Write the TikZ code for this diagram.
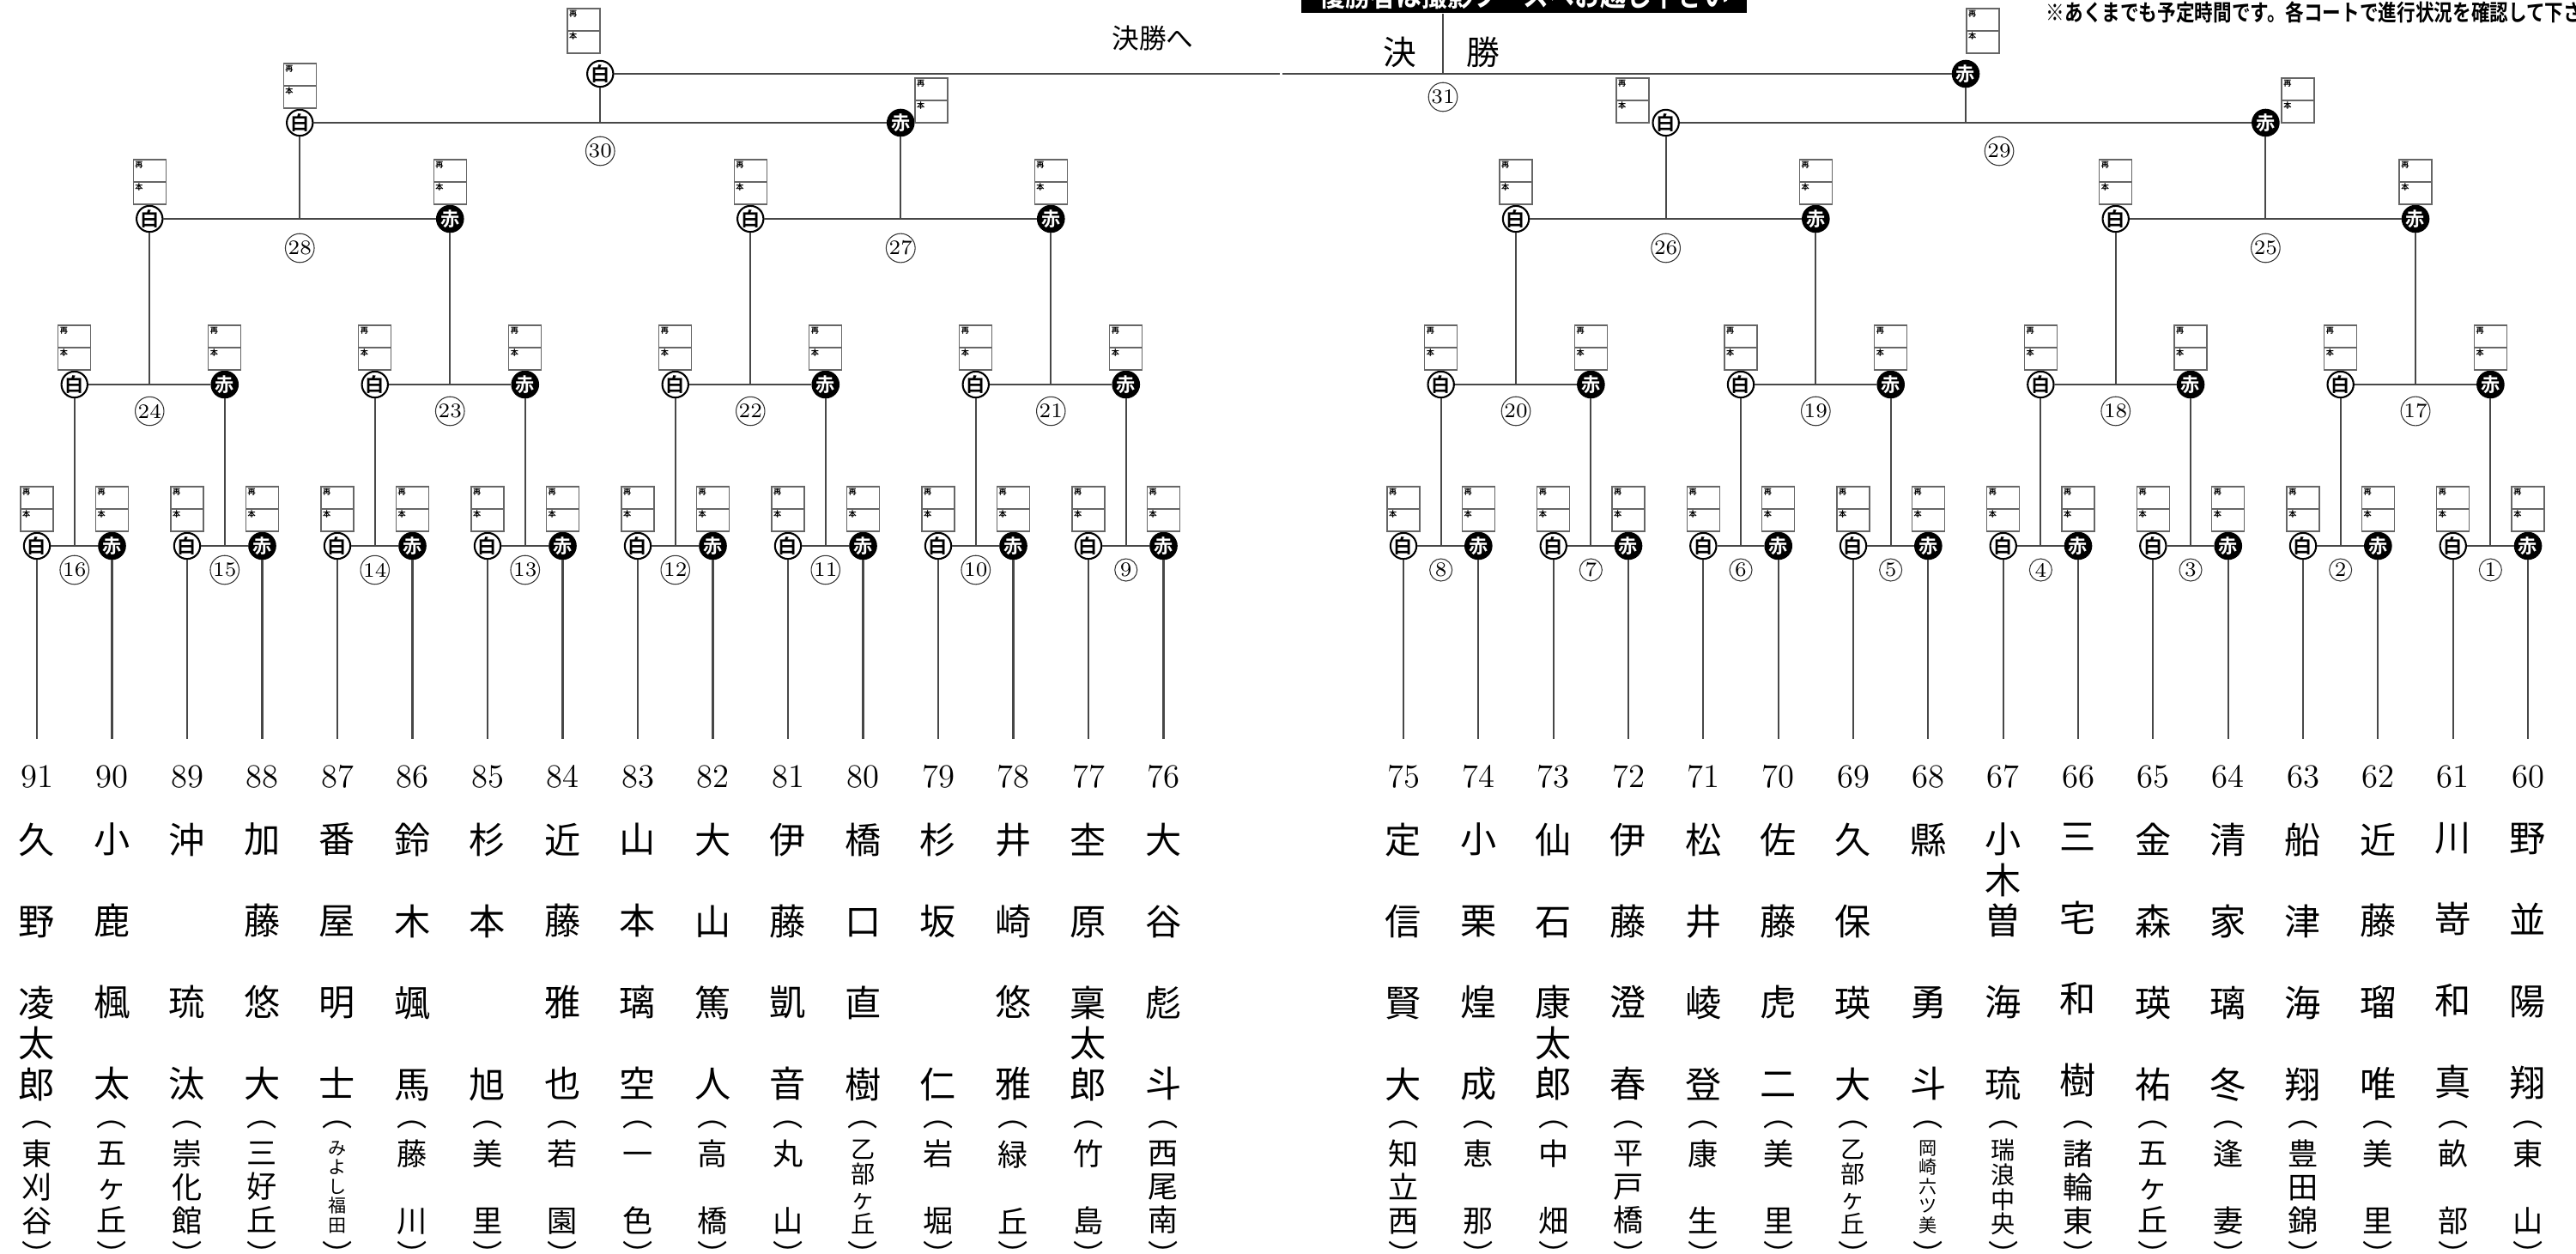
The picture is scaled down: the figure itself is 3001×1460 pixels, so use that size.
\documentclass[tikz,border=0pt]{standalone}
\usepackage{fontspec}
\usepackage{graphicx}
\newfontfamily\jp{Noto Sans CJK JP}[BoldFont=* Bold]

\tikzset{
  wire/.style={draw=black!72,line width=0.6pt},
  boxline/.style={draw=black!60,line width=0.4pt},
  tag/.style={anchor=north west,inner sep=0pt,font=\jp\bfseries\fontsize{2.6}{2.6}\selectfont},
  scorebox/.pic={
    \draw[boxline] (0,0) rectangle (38,52);
    \draw[boxline] (0,26) -- (38,26);
    \node[tag] at (1.5,1.5) {再};
    \node[tag] at (1.5,27.5) {本};
  },
  shiro/.style={circle,draw=black,line width=0.6pt,fill=white,minimum size=0.28cm,inner sep=0pt,font=\jp\bfseries\fontsize{6.3}{6.3}\selectfont},
  aka/.style={shiro,fill=black,text=white},
  mno/.style={circle,draw=black!80,line width=0.3pt,inner sep=0.2pt,minimum size=0.26cm,font=\fontsize{6.8}{6.8}\selectfont},
  seq/.style={inner sep=0pt,font=\fontsize{11}{11}\selectfont},
  who/.style={anchor=north,align=center,inner sep=0pt,font=\jp\fontsize{12}{27}\selectfont},
  school/.style={align=center,inner sep=0pt,font=\jp\fontsize{10}{11.1}\selectfont},
  school4/.style={school,font=\jp\fontsize{8}{8.2}\selectfont},
  school5/.style={school,font=\jp\fontsize{6}{6.4}\selectfont},
  paren/.style={inner sep=0pt,font=\jp\fontsize{10}{10}\selectfont},
  final/.style={inner sep=0pt,font=\jp\fontsize{11}{11}\selectfont},
  banner/.style={anchor=south,fill=black,text=white,minimum width=5.19cm,inner ysep=0.04cm,font=\jp\bfseries\fontsize{10}{10}\selectfont},
  note/.style={anchor=west,inner sep=0pt,font=\jp\bfseries\fontsize{7.5}{7.5}\selectfont}
}

\begin{document}
\begin{tikzpicture}[x=0.01cm,y=-0.01cm]
\useasboundingbox (0,0) rectangle (3001,1460);

\node[banner] (banner) at (1775.5,16) {\scalebox{0.85}[1]{優勝者は撮影ブースへお越し下さい}};
\node[note] (note) at (2383,14) {\scalebox{0.82}[1]{※あくまでも予定時間です。各コートで進行状況を確認して下さい}};
\node[final,font=\jp\fontsize{9}{9}\selectfont] (tofinal) at (1343,44) {決勝へ};
\node[final] (k1) at (1631,61) {決};
\node[final] (k2) at (1728,61) {勝};

% round 1, left
\node[shiro] (w16) at (43,636) {白};
\node[aka] (r16) at (130.5,636) {赤};
\node[shiro] (w15) at (218,636) {白};
\node[aka] (r15) at (305.5,636) {赤};
\node[shiro] (w14) at (393,636) {白};
\node[aka] (r14) at (480.5,636) {赤};
\node[shiro] (w13) at (568,636) {白};
\node[aka] (r13) at (655.5,636) {赤};
\node[shiro] (w12) at (743,636) {白};
\node[aka] (r12) at (830.5,636) {赤};
\node[shiro] (w11) at (918,636) {白};
\node[aka] (r11) at (1005.5,636) {赤};
\node[shiro] (w10) at (1093,636) {白};
\node[aka] (r10) at (1180.5,636) {赤};
\node[shiro] (w9) at (1268,636) {白};
\node[aka] (r9) at (1355.5,636) {赤};
% round 1, right
\node[shiro] (w8) at (1635,636) {白};
\node[aka] (r8) at (1722.3,636) {赤};
\node[shiro] (w7) at (1809.7,636) {白};
\node[aka] (r7) at (1897,636) {赤};
\node[shiro] (w6) at (1984.3,636) {白};
\node[aka] (r6) at (2071.7,636) {赤};
\node[shiro] (w5) at (2159,636) {白};
\node[aka] (r5) at (2246.3,636) {赤};
\node[shiro] (w4) at (2333.7,636) {白};
\node[aka] (r4) at (2421,636) {赤};
\node[shiro] (w3) at (2508.3,636) {白};
\node[aka] (r3) at (2595.7,636) {赤};
\node[shiro] (w2) at (2683,636) {白};
\node[aka] (r2) at (2770.3,636) {赤};
\node[shiro] (w1) at (2857.7,636) {白};
\node[aka] (r1) at (2945,636) {赤};
% round 2
\node[shiro] (w24) at (86.75,448) {白};
\node[aka] (r24) at (261.75,448) {赤};
\node[shiro] (w23) at (436.75,448) {白};
\node[aka] (r23) at (611.75,448) {赤};
\node[shiro] (w22) at (786.75,448) {白};
\node[aka] (r22) at (961.75,448) {赤};
\node[shiro] (w21) at (1136.75,448) {白};
\node[aka] (r21) at (1311.75,448) {赤};
\node[shiro] (w20) at (1678.65,448) {白};
\node[aka] (r20) at (1853.35,448) {赤};
\node[shiro] (w19) at (2028,448) {白};
\node[aka] (r19) at (2202.65,448) {赤};
\node[shiro] (w18) at (2377.35,448) {白};
\node[aka] (r18) at (2552,448) {赤};
\node[shiro] (w17) at (2726.65,448) {白};
\node[aka] (r17) at (2901.35,448) {赤};
% round 3
\node[shiro] (w28) at (174.25,255) {白};
\node[aka] (r28) at (524.25,255) {赤};
\node[shiro] (w27) at (874.25,255) {白};
\node[aka] (r27) at (1224.25,255) {赤};
\node[shiro] (w26) at (1766,255) {白};
\node[aka] (r26) at (2115.3,255) {赤};
\node[shiro] (w25) at (2464.7,255) {白};
\node[aka] (r25) at (2814,255) {赤};
% round 4 and semifinal
\node[shiro] (w30) at (349.25,143) {白};
\node[aka] (r30) at (1049.25,143) {赤};
\node[shiro] (w29) at (1940.65,143) {白};
\node[aka] (r29) at (2639.35,143) {赤};
\node[shiro] (w31) at (699.25,86) {白};
\node[aka] (r31) at (2290,86) {赤};

% score boxes
\pic at (24,567) {scorebox};
\pic at (111.5,567) {scorebox};
\pic at (199,567) {scorebox};
\pic at (286.5,567) {scorebox};
\pic at (374,567) {scorebox};
\pic at (461.5,567) {scorebox};
\pic at (549,567) {scorebox};
\pic at (636.5,567) {scorebox};
\pic at (724,567) {scorebox};
\pic at (811.5,567) {scorebox};
\pic at (899,567) {scorebox};
\pic at (986.5,567) {scorebox};
\pic at (1074,567) {scorebox};
\pic at (1161.5,567) {scorebox};
\pic at (1249,567) {scorebox};
\pic at (1336.5,567) {scorebox};
\pic at (1616,567) {scorebox};
\pic at (1703.3,567) {scorebox};
\pic at (1790.7,567) {scorebox};
\pic at (1878,567) {scorebox};
\pic at (1965.3,567) {scorebox};
\pic at (2052.7,567) {scorebox};
\pic at (2140,567) {scorebox};
\pic at (2227.3,567) {scorebox};
\pic at (2314.7,567) {scorebox};
\pic at (2402,567) {scorebox};
\pic at (2489.3,567) {scorebox};
\pic at (2576.7,567) {scorebox};
\pic at (2664,567) {scorebox};
\pic at (2751.3,567) {scorebox};
\pic at (2838.7,567) {scorebox};
\pic at (2926,567) {scorebox};
\pic at (67.75,379) {scorebox};
\pic at (242.75,379) {scorebox};
\pic at (417.75,379) {scorebox};
\pic at (592.75,379) {scorebox};
\pic at (767.75,379) {scorebox};
\pic at (942.75,379) {scorebox};
\pic at (1117.75,379) {scorebox};
\pic at (1292.75,379) {scorebox};
\pic at (1659.65,379) {scorebox};
\pic at (1834.35,379) {scorebox};
\pic at (2009,379) {scorebox};
\pic at (2183.65,379) {scorebox};
\pic at (2358.35,379) {scorebox};
\pic at (2533,379) {scorebox};
\pic at (2707.65,379) {scorebox};
\pic at (2882.35,379) {scorebox};
\pic at (155.25,186) {scorebox};
\pic at (505.25,186) {scorebox};
\pic at (855.25,186) {scorebox};
\pic at (1205.25,186) {scorebox};
\pic at (1747,186) {scorebox};
\pic at (2096.3,186) {scorebox};
\pic at (2445.7,186) {scorebox};
\pic at (2795,186) {scorebox};
\pic at (330.25,74) {scorebox};
\pic at (1066,91) {scorebox};
\pic at (1883,91) {scorebox};
\pic at (2658,91) {scorebox};
\pic at (661,10) {scorebox};
\pic at (2291,10) {scorebox};

% junctions
\coordinate (j16) at (86.75,636);
\coordinate (j15) at (261.75,636);
\coordinate (j14) at (436.75,636);
\coordinate (j13) at (611.75,636);
\coordinate (j12) at (786.75,636);
\coordinate (j11) at (961.75,636);
\coordinate (j10) at (1136.75,636);
\coordinate (j9) at (1311.75,636);
\coordinate (j8) at (1678.65,636);
\coordinate (j7) at (1853.35,636);
\coordinate (j6) at (2028,636);
\coordinate (j5) at (2202.65,636);
\coordinate (j4) at (2377.35,636);
\coordinate (j3) at (2552,636);
\coordinate (j2) at (2726.65,636);
\coordinate (j1) at (2901.35,636);
\coordinate (j24) at (174.25,448);
\coordinate (j23) at (524.25,448);
\coordinate (j22) at (874.25,448);
\coordinate (j21) at (1224.25,448);
\coordinate (j20) at (1766,448);
\coordinate (j19) at (2115.3,448);
\coordinate (j18) at (2464.7,448);
\coordinate (j17) at (2814,448);
\coordinate (j28) at (349.25,255);
\coordinate (j27) at (1049.25,255);
\coordinate (j26) at (1940.65,255);
\coordinate (j25) at (2639.35,255);
\coordinate (j30) at (699.25,143);
\coordinate (j29) at (2290,143);
\coordinate (j31) at (1681,86);
\coordinate (g1) at (1491,86);
\coordinate (g2) at (1494,86);

\draw[wire] (w16) -- (r16);
\draw[wire] (w15) -- (r15);
\draw[wire] (w14) -- (r14);
\draw[wire] (w13) -- (r13);
\draw[wire] (w12) -- (r12);
\draw[wire] (w11) -- (r11);
\draw[wire] (w10) -- (r10);
\draw[wire] (w9) -- (r9);
\draw[wire] (w8) -- (r8);
\draw[wire] (w7) -- (r7);
\draw[wire] (w6) -- (r6);
\draw[wire] (w5) -- (r5);
\draw[wire] (w4) -- (r4);
\draw[wire] (w3) -- (r3);
\draw[wire] (w2) -- (r2);
\draw[wire] (w1) -- (r1);
\draw[wire] (w24) -- (r24);
\draw[wire] (w23) -- (r23);
\draw[wire] (w22) -- (r22);
\draw[wire] (w21) -- (r21);
\draw[wire] (w20) -- (r20);
\draw[wire] (w19) -- (r19);
\draw[wire] (w18) -- (r18);
\draw[wire] (w17) -- (r17);
\draw[wire] (w28) -- (r28);
\draw[wire] (w27) -- (r27);
\draw[wire] (w26) -- (r26);
\draw[wire] (w25) -- (r25);
\draw[wire] (w30) -- (r30);
\draw[wire] (w29) -- (r29);
\draw[wire] (w31) -- (g1);
\draw[wire] (g2) -- (r31);

\draw[wire] (j16) -- (w24);
\draw[wire] (j15) -- (r24);
\draw[wire] (j14) -- (w23);
\draw[wire] (j13) -- (r23);
\draw[wire] (j12) -- (w22);
\draw[wire] (j11) -- (r22);
\draw[wire] (j10) -- (w21);
\draw[wire] (j9) -- (r21);
\draw[wire] (j8) -- (w20);
\draw[wire] (j7) -- (r20);
\draw[wire] (j6) -- (w19);
\draw[wire] (j5) -- (r19);
\draw[wire] (j4) -- (w18);
\draw[wire] (j3) -- (r18);
\draw[wire] (j2) -- (w17);
\draw[wire] (j1) -- (r17);
\draw[wire] (j24) -- (w28);
\draw[wire] (j23) -- (r28);
\draw[wire] (j22) -- (w27);
\draw[wire] (j21) -- (r27);
\draw[wire] (j20) -- (w26);
\draw[wire] (j19) -- (r26);
\draw[wire] (j18) -- (w25);
\draw[wire] (j17) -- (r25);
\draw[wire] (j28) -- (w30);
\draw[wire] (j27) -- (r30);
\draw[wire] (j26) -- (w29);
\draw[wire] (j25) -- (r29);
\draw[wire] (j30) -- (w31);
\draw[wire] (j29) -- (r31);
\draw[wire] (j31) -- (j31 |- banner.south);

% match numbers
\node[mno] (l16) at (86.75,664) {16};
\node[mno] (l15) at (261.75,664) {15};
\node[mno] (l14) at (436.75,664) {14};
\node[mno] (l13) at (611.75,664) {13};
\node[mno] (l12) at (786.75,664) {12};
\node[mno] (l11) at (961.75,664) {11};
\node[mno] (l10) at (1136.75,664) {10};
\node[mno] (l9) at (1311.75,664) {9};
\node[mno] (l8) at (1678.65,664) {8};
\node[mno] (l7) at (1853.35,664) {7};
\node[mno] (l6) at (2028,664) {6};
\node[mno] (l5) at (2202.65,664) {5};
\node[mno] (l4) at (2377.35,664) {4};
\node[mno] (l3) at (2552,664) {3};
\node[mno] (l2) at (2726.65,664) {2};
\node[mno] (l1) at (2901.35,664) {1};
\node[mno] (l24) at (174.25,479) {24};
\node[mno] (l23) at (524.25,479) {23};
\node[mno] (l22) at (874.25,479) {22};
\node[mno] (l21) at (1224.25,479) {21};
\node[mno] (l20) at (1766,479) {20};
\node[mno] (l19) at (2115.3,479) {19};
\node[mno] (l18) at (2464.7,479) {18};
\node[mno] (l17) at (2814,479) {17};
\node[mno] (l28) at (349.25,289) {28};
\node[mno] (l27) at (1049.25,289) {27};
\node[mno] (l26) at (1940.65,289) {26};
\node[mno] (l25) at (2639.35,289) {25};
\node[mno] (l30) at (699.25,176) {30};
\node[mno] (l29) at (2329,176) {29};
\node[mno] (l31) at (1681,113) {31};

% entrants, left
\coordinate (e91) at (43,861);
\coordinate (e90) at (130.5,861);
\coordinate (e89) at (218,861);
\coordinate (e88) at (305.5,861);
\coordinate (e87) at (393,861);
\coordinate (e86) at (480.5,861);
\coordinate (e85) at (568,861);
\coordinate (e84) at (655.5,861);
\coordinate (e83) at (743,861);
\coordinate (e82) at (830.5,861);
\coordinate (e81) at (918,861);
\coordinate (e80) at (1005.5,861);
\coordinate (e79) at (1093,861);
\coordinate (e78) at (1180.5,861);
\coordinate (e77) at (1268,861);
\coordinate (e76) at (1355.5,861);
\draw[wire] (w16) -- (e91);
\draw[wire] (r16) -- (e90);
\draw[wire] (w15) -- (e89);
\draw[wire] (r15) -- (e88);
\draw[wire] (w14) -- (e87);
\draw[wire] (r14) -- (e86);
\draw[wire] (w13) -- (e85);
\draw[wire] (r13) -- (e84);
\draw[wire] (w12) -- (e83);
\draw[wire] (r12) -- (e82);
\draw[wire] (w11) -- (e81);
\draw[wire] (r11) -- (e80);
\draw[wire] (w10) -- (e79);
\draw[wire] (r10) -- (e78);
\draw[wire] (w9) -- (e77);
\draw[wire] (r9) -- (e76);
% entrants, right
\coordinate (e75) at (1635,861);
\coordinate (e74) at (1722.3,861);
\coordinate (e73) at (1809.7,861);
\coordinate (e72) at (1897,861);
\coordinate (e71) at (1984.3,861);
\coordinate (e70) at (2071.7,861);
\coordinate (e69) at (2159,861);
\coordinate (e68) at (2246.3,861);
\coordinate (e67) at (2333.7,861);
\coordinate (e66) at (2421,861);
\coordinate (e65) at (2508.3,861);
\coordinate (e64) at (2595.7,861);
\coordinate (e63) at (2683,861);
\coordinate (e62) at (2770.3,861);
\coordinate (e61) at (2857.7,861);
\coordinate (e60) at (2945,861);
\draw[wire] (w8) -- (e75);
\draw[wire] (r8) -- (e74);
\draw[wire] (w7) -- (e73);
\draw[wire] (r7) -- (e72);
\draw[wire] (w6) -- (e71);
\draw[wire] (r6) -- (e70);
\draw[wire] (w5) -- (e69);
\draw[wire] (r5) -- (e68);
\draw[wire] (w4) -- (e67);
\draw[wire] (r4) -- (e66);
\draw[wire] (w3) -- (e65);
\draw[wire] (r3) -- (e64);
\draw[wire] (w2) -- (e63);
\draw[wire] (r2) -- (e62);
\draw[wire] (w1) -- (e61);
\draw[wire] (r1) -- (e60);

\node[seq] (n91) at (43,905) {91};
\node[seq] (n90) at (130.5,905) {90};
\node[seq] (n89) at (218,905) {89};
\node[seq] (n88) at (305.5,905) {88};
\node[seq] (n87) at (393,905) {87};
\node[seq] (n86) at (480.5,905) {86};
\node[seq] (n85) at (568,905) {85};
\node[seq] (n84) at (655.5,905) {84};
\node[seq] (n83) at (743,905) {83};
\node[seq] (n82) at (830.5,905) {82};
\node[seq] (n81) at (918,905) {81};
\node[seq] (n80) at (1005.5,905) {80};
\node[seq] (n79) at (1093,905) {79};
\node[seq] (n78) at (1180.5,905) {78};
\node[seq] (n77) at (1268,905) {77};
\node[seq] (n76) at (1355.5,905) {76};
\node[seq] (n75) at (1635,905) {75};
\node[seq] (n74) at (1722.3,905) {74};
\node[seq] (n73) at (1809.7,905) {73};
\node[seq] (n72) at (1897,905) {72};
\node[seq] (n71) at (1984.3,905) {71};
\node[seq] (n70) at (2071.7,905) {70};
\node[seq] (n69) at (2159,905) {69};
\node[seq] (n68) at (2246.3,905) {68};
\node[seq] (n67) at (2333.7,905) {67};
\node[seq] (n66) at (2421,905) {66};
\node[seq] (n65) at (2508.3,905) {65};
\node[seq] (n64) at (2595.7,905) {64};
\node[seq] (n63) at (2683,905) {63};
\node[seq] (n62) at (2770.3,905) {62};
\node[seq] (n61) at (2857.7,905) {61};
\node[seq] (n60) at (2945,905) {60};

\node[who] (nm91) at (43,958) {久\\野\\凌\\[-13.5pt]太\\[-13.5pt]郎};
\node[who] (nm90) at (130.5,958) {小\\鹿\\楓\\太};
\node[who] (nm89) at (218,958) {沖\\\mbox{}\\琉\\汰};
\node[who] (nm88) at (305.5,958) {加\\藤\\悠\\大};
\node[who] (nm87) at (393,958) {番\\屋\\明\\士};
\node[who] (nm86) at (480.5,958) {鈴\\木\\颯\\馬};
\node[who] (nm85) at (568,958) {杉\\本\\\mbox{}\\旭};
\node[who] (nm84) at (655.5,958) {近\\藤\\雅\\也};
\node[who] (nm83) at (743,958) {山\\本\\璃\\空};
\node[who] (nm82) at (830.5,958) {大\\山\\篤\\人};
\node[who] (nm81) at (918,958) {伊\\藤\\凱\\音};
\node[who] (nm80) at (1005.5,958) {橋\\口\\直\\樹};
\node[who] (nm79) at (1093,958) {杉\\坂\\\mbox{}\\仁};
\node[who] (nm78) at (1180.5,958) {井\\崎\\悠\\雅};
\node[who] (nm77) at (1268,958) {杢\\原\\稟\\[-13.5pt]太\\[-13.5pt]郎};
\node[who] (nm76) at (1355.5,958) {大\\谷\\彪\\斗};
\node[who] (nm75) at (1635,958) {定\\信\\賢\\大};
\node[who] (nm74) at (1722.3,958) {小\\栗\\煌\\成};
\node[who] (nm73) at (1809.7,958) {仙\\石\\康\\[-13.5pt]太\\[-13.5pt]郎};
\node[who] (nm72) at (1897,958) {伊\\藤\\澄\\春};
\node[who] (nm71) at (1984.3,958) {松\\井\\崚\\登};
\node[who] (nm70) at (2071.7,958) {佐\\藤\\虎\\二};
\node[who] (nm69) at (2159,958) {久\\保\\瑛\\大};
\node[who] (nm68) at (2246.3,958) {縣\\\mbox{}\\勇\\斗};
\node[who] (nm67) at (2333.7,958) {小\\[-13.5pt]木\\[-13.5pt]曽\\海\\琉};
\node[who] (nm66) at (2421,958) {三\\宅\\和\\樹};
\node[who] (nm65) at (2508.3,958) {金\\森\\瑛\\祐};
\node[who] (nm64) at (2595.7,958) {清\\家\\璃\\冬};
\node[who] (nm63) at (2683,958) {船\\津\\海\\翔};
\node[who] (nm62) at (2770.3,958) {近\\藤\\瑠\\唯};
\node[who] (nm61) at (2857.7,958) {川\\嵜\\和\\真};
\node[who] (nm60) at (2945,958) {野\\並\\陽\\翔};

\node[school] (sc91) at (43,1383) {東\\刈\\谷};
\node[school] (sc90) at (130.5,1383) {五\\ヶ\\丘};
\node[school] (sc89) at (218,1383) {崇\\化\\館};
\node[school] (sc88) at (305.5,1383) {三\\好\\丘};
\node[school5] (sc87) at (393,1383) {み\\よ\\し\\福\\田};
\node[school] (sc86) at (480.5,1383) {藤\\\mbox{}\\川};
\node[school] (sc85) at (568,1383) {美\\\mbox{}\\里};
\node[school] (sc84) at (655.5,1383) {若\\\mbox{}\\園};
\node[school] (sc83) at (743,1383) {\vphantom{色}一\\\mbox{}\\色};
\node[school] (sc82) at (830.5,1383) {高\\\mbox{}\\橋};
\node[school] (sc81) at (918,1383) {丸\\\mbox{}\\山};
\node[school4] (sc80) at (1005.5,1383) {乙\\部\\ヶ\\丘};
\node[school] (sc79) at (1093,1383) {岩\\\mbox{}\\堀};
\node[school] (sc78) at (1180.5,1383) {緑\\\mbox{}\\丘};
\node[school] (sc77) at (1268,1383) {竹\\\mbox{}\\島};
\node[school] (sc76) at (1355.5,1383) {西\\尾\\南};
\node[school] (sc75) at (1635,1383) {知\\立\\西};
\node[school] (sc74) at (1722.3,1383) {恵\\\mbox{}\\那};
\node[school] (sc73) at (1809.7,1383) {中\\\mbox{}\\畑};
\node[school] (sc72) at (1897,1383) {平\\戸\\橋};
\node[school] (sc71) at (1984.3,1383) {康\\\mbox{}\\生};
\node[school] (sc70) at (2071.7,1383) {美\\\mbox{}\\里};
\node[school4] (sc69) at (2159,1383) {乙\\部\\ヶ\\丘};
\node[school5] (sc68) at (2246.3,1383) {岡\\崎\\六\\ツ\\美};
\node[school4] (sc67) at (2333.7,1383) {瑞\\浪\\中\\央};
\node[school] (sc66) at (2421,1383) {諸\\輪\\東};
\node[school] (sc65) at (2508.3,1383) {五\\ヶ\\丘};
\node[school] (sc64) at (2595.7,1383) {逢\\\mbox{}\\妻};
\node[school] (sc63) at (2683,1383) {豊\\田\\錦};
\node[school] (sc62) at (2770.3,1383) {美\\\mbox{}\\里};
\node[school] (sc61) at (2857.7,1383) {畝\\\mbox{}\\部};
\node[school] (sc60) at (2945,1383) {東\\\mbox{}\\山};

\node[paren] (pa91) at (43,1311) {︵};
\node[paren] (pb91) at (43,1461) {︶};
\node[paren] (pa90) at (130.5,1311) {︵};
\node[paren] (pb90) at (130.5,1461) {︶};
\node[paren] (pa89) at (218,1311) {︵};
\node[paren] (pb89) at (218,1461) {︶};
\node[paren] (pa88) at (305.5,1311) {︵};
\node[paren] (pb88) at (305.5,1461) {︶};
\node[paren] (pa87) at (393,1311) {︵};
\node[paren] (pb87) at (393,1461) {︶};
\node[paren] (pa86) at (480.5,1311) {︵};
\node[paren] (pb86) at (480.5,1461) {︶};
\node[paren] (pa85) at (568,1311) {︵};
\node[paren] (pb85) at (568,1461) {︶};
\node[paren] (pa84) at (655.5,1311) {︵};
\node[paren] (pb84) at (655.5,1461) {︶};
\node[paren] (pa83) at (743,1311) {︵};
\node[paren] (pb83) at (743,1461) {︶};
\node[paren] (pa82) at (830.5,1311) {︵};
\node[paren] (pb82) at (830.5,1461) {︶};
\node[paren] (pa81) at (918,1311) {︵};
\node[paren] (pb81) at (918,1461) {︶};
\node[paren] (pa80) at (1005.5,1311) {︵};
\node[paren] (pb80) at (1005.5,1461) {︶};
\node[paren] (pa79) at (1093,1311) {︵};
\node[paren] (pb79) at (1093,1461) {︶};
\node[paren] (pa78) at (1180.5,1311) {︵};
\node[paren] (pb78) at (1180.5,1461) {︶};
\node[paren] (pa77) at (1268,1311) {︵};
\node[paren] (pb77) at (1268,1461) {︶};
\node[paren] (pa76) at (1355.5,1311) {︵};
\node[paren] (pb76) at (1355.5,1461) {︶};
\node[paren] (pa75) at (1635,1311) {︵};
\node[paren] (pb75) at (1635,1461) {︶};
\node[paren] (pa74) at (1722.3,1311) {︵};
\node[paren] (pb74) at (1722.3,1461) {︶};
\node[paren] (pa73) at (1809.7,1311) {︵};
\node[paren] (pb73) at (1809.7,1461) {︶};
\node[paren] (pa72) at (1897,1311) {︵};
\node[paren] (pb72) at (1897,1461) {︶};
\node[paren] (pa71) at (1984.3,1311) {︵};
\node[paren] (pb71) at (1984.3,1461) {︶};
\node[paren] (pa70) at (2071.7,1311) {︵};
\node[paren] (pb70) at (2071.7,1461) {︶};
\node[paren] (pa69) at (2159,1311) {︵};
\node[paren] (pb69) at (2159,1461) {︶};
\node[paren] (pa68) at (2246.3,1311) {︵};
\node[paren] (pb68) at (2246.3,1461) {︶};
\node[paren] (pa67) at (2333.7,1311) {︵};
\node[paren] (pb67) at (2333.7,1461) {︶};
\node[paren] (pa66) at (2421,1311) {︵};
\node[paren] (pb66) at (2421,1461) {︶};
\node[paren] (pa65) at (2508.3,1311) {︵};
\node[paren] (pb65) at (2508.3,1461) {︶};
\node[paren] (pa64) at (2595.7,1311) {︵};
\node[paren] (pb64) at (2595.7,1461) {︶};
\node[paren] (pa63) at (2683,1311) {︵};
\node[paren] (pb63) at (2683,1461) {︶};
\node[paren] (pa62) at (2770.3,1311) {︵};
\node[paren] (pb62) at (2770.3,1461) {︶};
\node[paren] (pa61) at (2857.7,1311) {︵};
\node[paren] (pb61) at (2857.7,1461) {︶};
\node[paren] (pa60) at (2945,1311) {︵};
\node[paren] (pb60) at (2945,1461) {︶};
\end{tikzpicture}
\end{document}
